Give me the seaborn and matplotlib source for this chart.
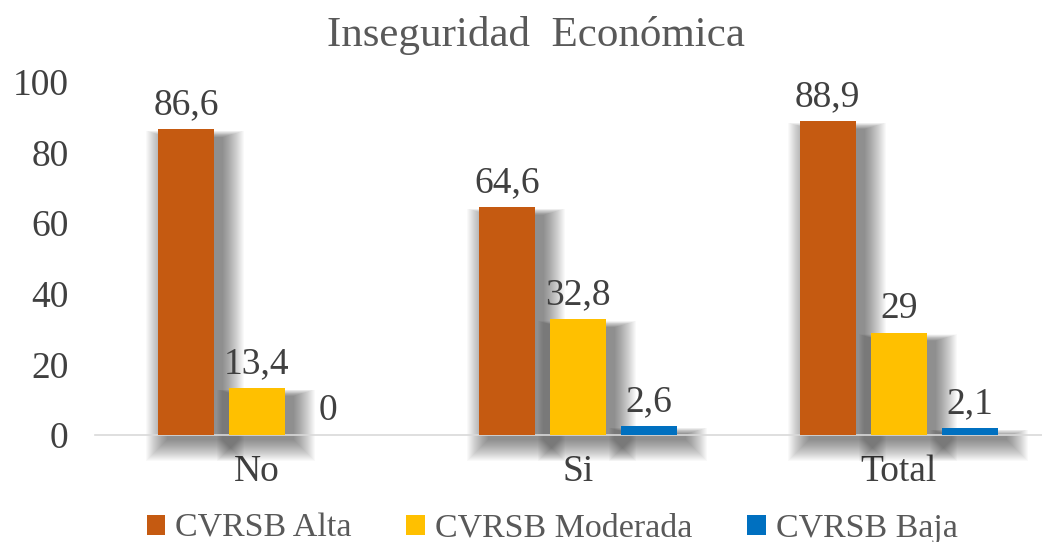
import numpy as np
import pandas as pd
import matplotlib
matplotlib.use("Agg")
import matplotlib.pyplot as plt
import seaborn as sns
from matplotlib.patches import Rectangle

categories = ["No", "Si", "Total"]
series = ["CVRSB Alta", "CVRSB Moderada", "CVRSB Baja"]
alta = [86.6, 64.6, 88.9]
moderada = [13.4, 32.8, 29.0]
baja = [0.0, 2.6, 2.1]
labels = [["86,6", "64,6", "88,9"], ["13,4", "32,8", "29"], ["0", "2,6", "2,1"]]
colors = ["#C55A11", "#FFC000", "#0070C0"]
yticks = [0, 20, 40, 60, 80, 100]

df = pd.DataFrame({
    "cat": categories * 3,
    "serie": [s for s in series for _ in categories],
    "val": alta + moderada + baja,
})

sns.set_theme(style="white")
plt.rcParams["font.family"] = ["Liberation Serif", "DejaVu Serif"]
TXT = "#404040"

W, H = 1042, 542
fig = plt.figure(figsize=(W / 100, H / 100), dpi=100)
ax_rect = [0.091, 0.197, 0.91, 0.652]
ax = fig.add_axes(ax_rect)
sns.barplot(data=df, x="cat", y="val", hue="serie", order=categories,
            hue_order=series, palette=colors, width=0.663, gap=0.21,
            saturation=1, linewidth=0, ax=ax, legend=True, zorder=3)

XL = (-0.505, 2.45)
YL = (0, 100)
ax.set_ylim(*YL)
ax.set_xlim(*XL)
ax.set_yticks(yticks)
ax.set_yticklabels([str(t) for t in yticks], fontsize=27, color=TXT)
ax.tick_params(axis="x", labelsize=27, labelcolor=TXT, pad=14, length=0)
ax.tick_params(axis="y", pad=19, length=0)
ax.set_xlabel("")
ax.set_ylabel("")
for s in ["left", "right", "top"]:
    ax.spines[s].set_visible(False)
ax.spines["bottom"].set_color("#D9D9D9")
ax.spines["bottom"].set_linewidth(1.2)

# soft shadows derived from the drawn bars
ux = (XL[1] - XL[0]) / (ax_rect[2] * W)   # data units per pixel (x)
uy = (YL[1] - YL[0]) / (ax_rect[3] * H)   # data units per pixel (y)
bars = [p for p in ax.patches if isinstance(p, Rectangle) and p.get_height() > 0]
for b in bars:
    x, y = b.get_x(), b.get_y()
    w, h = b.get_width(), b.get_height()
    for k in range(22):
        e = 1.0 * k
        left = x + (9 - e) * ux
        right = x + w + (9 + e) * ux
        bottom = y + (-5 - e) * uy
        top = y + h + (-8 + 0.3 * e) * uy
        ax.add_patch(Rectangle((left, bottom), right - left, top - bottom,
                               facecolor="black", alpha=0.023, linewidth=0,
                               zorder=2, clip_on=False))

# data labels
for i, cont in enumerate(ax.containers):
    ax.bar_label(cont, labels=labels[i], fontsize=27, color=TXT, padding=5)

ax.set_title("Inseguridad  Económica", fontsize=31, color="#595959", pad=26,
             x=0.465)

leg = ax.get_legend()
handles = leg.legend_handles
leg.remove()
fig.legend(handles, series, loc="lower center", bbox_to_anchor=(0.53, -0.06),
           ncol=3, frameon=False, fontsize=24.5, labelcolor="#595959",
           handlelength=0.55, handleheight=0.55, handletextpad=0.3,
           columnspacing=1.6)

fig.savefig("out.png", dpi=100)
